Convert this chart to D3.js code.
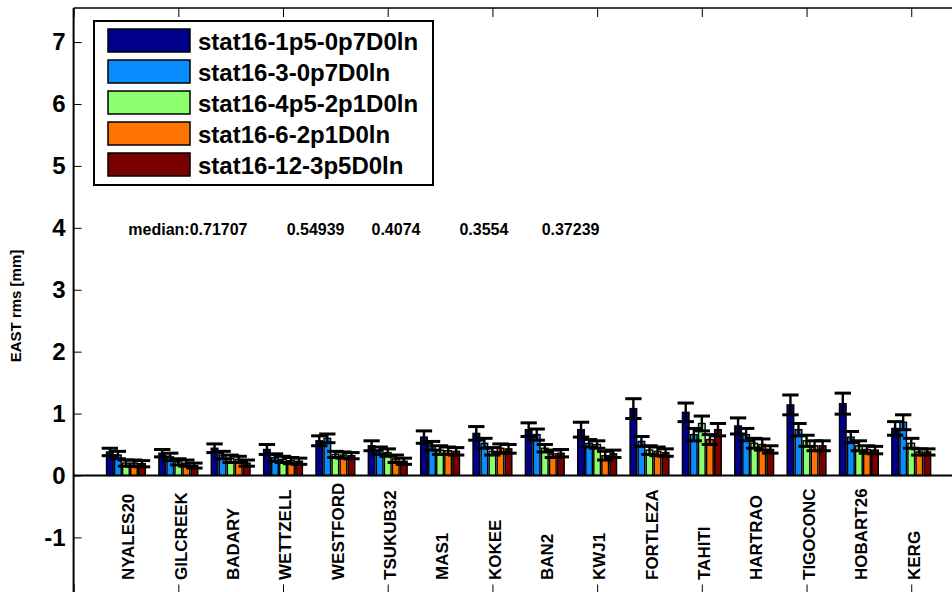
<!DOCTYPE html>
<html>
<head>
<meta charset="utf-8">
<script src="https://cdn.jsdelivr.net/npm/d3@7"></script>
<style>
  html, body { margin: 0; padding: 0; background: #fff; }
  svg { display: block; font-family: "Liberation Sans", Arial, Helvetica, sans-serif; }
  .axis path { display: none; }
  .axis line { stroke: #000; }
</style>
</head>
<body>
<div id="chart"></div>
<script>
(function(){
  'use strict';

  var stations = ['NYALES20','GILCREEK','BADARY','WETTZELL','WESTFORD','TSUKUB32','MAS1','KOKEE',
                  'BAN2','KWJ1','FORTLEZA','TAHITI','HARTRAO','TIGOCONC','HOBART26','KERG'];

  var seriesNames = ['stat16-1p5-0p7D0ln','stat16-3-0p7D0ln','stat16-4p5-2p1D0ln','stat16-6-2p1D0ln','stat16-12-3p5D0ln'];
  var seriesColors = ['#00008c','#0a8cff','#8cff6e','#ff7300','#7a0000'];

  // rms per station, one array per solution
  var rms1 = [0.38,0.36,0.44,0.42,0.56,0.48,0.62,0.68,0.74,0.74,1.08,1.02,0.80,1.14,1.16,0.76];
  var rms2 = [0.33,0.30,0.33,0.29,0.60,0.40,0.48,0.52,0.66,0.52,0.55,0.66,0.66,0.74,0.62,0.86];
  var rms3 = [0.20,0.22,0.27,0.26,0.34,0.37,0.41,0.39,0.44,0.50,0.41,0.84,0.52,0.56,0.48,0.52];
  var rms4 = [0.20,0.20,0.26,0.24,0.33,0.27,0.40,0.44,0.35,0.32,0.39,0.58,0.50,0.48,0.42,0.38];
  var rms5 = [0.19,0.16,0.20,0.23,0.32,0.23,0.39,0.43,0.36,0.35,0.37,0.74,0.42,0.48,0.41,0.38];

  // error bar half lengths
  var err1 = [0.06,0.06,0.07,0.08,0.08,0.08,0.10,0.11,0.11,0.12,0.16,0.15,0.13,0.16,0.17,0.11];
  var err2 = [0.06,0.06,0.06,0.06,0.07,0.06,0.07,0.08,0.09,0.06,0.08,0.10,0.10,0.10,0.09,0.12];
  var err3 = [0.05,0.05,0.06,0.05,0.05,0.06,0.07,0.06,0.06,0.06,0.07,0.12,0.08,0.09,0.08,0.08];
  var err4 = [0.05,0.05,0.05,0.05,0.05,0.06,0.06,0.07,0.06,0.07,0.07,0.08,0.09,0.08,0.06,0.05];
  var err5 = [0.05,0.04,0.05,0.05,0.05,0.05,0.06,0.07,0.06,0.06,0.06,0.10,0.06,0.08,0.06,0.05];

  var medianLabels = ['median:0.71707','0.54939','0.4074','0.3554','0.37239'];
  var medianX = [1.045, 4.07, 5.69, 7.37, 8.94];

  var yTicks = [-1,0,1,2,3,4,5,6,7];
  var xTicks = [0,2,4,6,8,10,12,14,16];

  var rmsSets = [rms1, rms2, rms3, rms4, rms5],
      errSets = [err1, err2, err3, err4, err5];

  var w = 952,
      h = 592,
      svg = d3.select('#chart').append('svg')
        .attr('width', w)
        .attr('height', h);

  var x = d3.scaleLinear()
      .domain([0, 17])
      .range([73.6, 963.6]),

      y = d3.scaleLinear()
      .domain([-1.906, 7.55])
      .range([593.5, 8]);

  var nSer = seriesNames.length,
      groupW = Math.min(0.8, nSer / (nSer + 1.5)),
      slot = groupW / nSer,
      barW = x(slot * 0.82) - x(0),
      tee = 0.156;

  // flatten into one record per bar
  var bars = [];
  rmsSets.forEach(function(vals, s) {
    vals.forEach(function(v, i) {
      bars.push({s: s, st: i + 1, v: v, e: errSets[s][i]});
    });
  });
  function cx(d) { return x(d.st + (d.s - (nSer - 1) / 2) * slot); }

  // axes
  var yAxis = d3.axisLeft(y)
      .tickValues(yTicks)
      .tickSizeInner(-8)
      .tickSizeOuter(0)
      .tickPadding(8)
      .tickFormat(function(d) { return String(d); });

  svg.append('g')
    .attr('class', 'y axis')
    .attr('transform', 'translate(' + x(0) + ',0)')
    .call(yAxis)
    .call(function(g) {
      g.selectAll('text')
        .style('font-size', '24px')
        .style('font-weight', 'bold')
        .style('fill', '#000');
    });

  svg.append('g')
    .attr('class', 'x axis')
    .attr('transform', 'translate(0,' + y.range()[1] + ')')
    .call(d3.axisTop(x).tickValues(xTicks).tickSizeInner(-9).tickSizeOuter(0).tickFormat(''));

  svg.append('g')
    .attr('class', 'x axis')
    .attr('transform', 'translate(0,' + y.range()[0] + ')')
    .call(d3.axisBottom(x).tickValues(xTicks).tickSizeInner(-9).tickSizeOuter(0).tickFormat(''));

  // box lines
  svg.append('line')
    .attr('x1', x(0)).attr('x2', x(17))
    .attr('y1', y.range()[1]).attr('y2', y.range()[1])
    .style('stroke', '#000').style('stroke-width', 1.5);
  svg.append('line')
    .attr('x1', x(0)).attr('x2', x(0))
    .attr('y1', y.range()[1]).attr('y2', y.range()[0])
    .style('stroke', '#000').style('stroke-width', 2);

  // bars
  svg.append('g').selectAll('rect')
    .data(bars)
    .enter()
    .append('rect')
    .attr('x', function(d) { return cx(d) - barW / 2; })
    .attr('y', function(d) { return y(d.v); })
    .attr('width', barW)
    .attr('height', function(d) { return y(0) - y(d.v); })
    .style('fill', function(d) { return seriesColors[d.s]; })
    .style('stroke', '#000')
    .style('stroke-width', 1.4);

  // zero line
  svg.append('line')
    .attr('x1', x(0)).attr('x2', x(17))
    .attr('y1', y(0)).attr('y2', y(0))
    .style('stroke', '#000').style('stroke-width', 2.2);

  // error bars
  var eb = svg.append('g').selectAll('g')
    .data(bars)
    .enter()
    .append('g')
    .style('stroke', '#000');

  eb.append('line')
    .attr('x1', cx).attr('x2', cx)
    .attr('y1', function(d) { return y(d.v - d.e); })
    .attr('y2', function(d) { return y(d.v + d.e); })
    .style('stroke-width', 2.4);

  [-1, 1].forEach(function(sg) {
    eb.append('line')
      .attr('x1', function(d) { return cx(d) - (x(tee) - x(0)); })
      .attr('x2', function(d) { return cx(d) + (x(tee) - x(0)); })
      .attr('y1', function(d) { return y(d.v + sg * d.e); })
      .attr('y2', function(d) { return y(d.v + sg * d.e); })
      .style('stroke-width', 3);
  });

  // station names
  svg.append('g').selectAll('text')
    .data(stations)
    .enter()
    .append('text')
    .attr('transform', function(d, i) {
      return 'translate(' + (x(i + 1) + 8.3) + ',580) rotate(-90)';
    })
    .style('font-size', '17px')
    .style('font-weight', 'bold')
    .text(function(d) { return d; });

  // medians
  svg.append('g').selectAll('text')
    .data(medianLabels)
    .enter()
    .append('text')
    .attr('x', function(d, i) { return x(medianX[i]); })
    .attr('y', y(4) + 7)
    .style('font-size', '16px')
    .style('font-weight', 'bold')
    .text(function(d) { return d; });

  // y label
  svg.append('text')
    .attr('transform', 'translate(21,306) rotate(-90)')
    .attr('text-anchor', 'middle')
    .style('font-size', '15px')
    .style('font-weight', 'bold')
    .text('EAST rms [mm]');

  // legend
  var leg = svg.append('g');
  leg.append('rect')
    .attr('x', 94).attr('y', 21)
    .attr('width', 339).attr('height', 164)
    .style('fill', '#fff')
    .style('stroke', '#000')
    .style('stroke-width', 2);

  var items = leg.selectAll('.item')
    .data(seriesNames)
    .enter()
    .append('g')
    .attr('class', 'item')
    .attr('transform', function(d, i) { return 'translate(0,' + (40.5 + 31 * i) + ')'; });

  items.append('rect')
    .attr('x', 108).attr('y', -11.5)
    .attr('width', 82).attr('height', 23)
    .style('fill', function(d, i) { return seriesColors[i]; })
    .style('stroke', '#000')
    .style('stroke-width', 1.5);

  items.append('text')
    .attr('x', 198)
    .attr('y', 9.5)
    .style('font-size', '24px')
    .style('font-weight', 'bold')
    .text(function(d) { return d; });

}());
</script>
</body>
</html>
